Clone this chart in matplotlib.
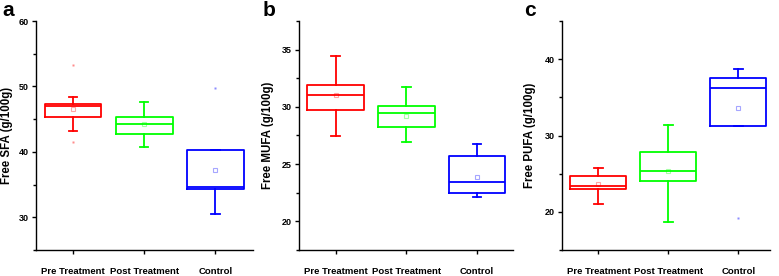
import matplotlib
matplotlib.use("Agg")
import matplotlib.pyplot as plt
from matplotlib.ticker import MultipleLocator

plt.rcParams['font.family'] = ['Liberation Sans', 'DejaVu Sans']

groups = ["Pre Treatment", "Post Treatment", "Control"]
colors = ["#ff0000", "#00ff00", "#0000ff"]

# each row: whislo, q1, median, q3, whishi, mean, outliers
sfa = [
    [43.2, 45.4, 47.0, 47.3, 48.4, 46.6, [53.2, 41.5]],
    [40.7, 42.75, 44.3, 45.3, 47.6, 44.3, []],
    [30.5, 34.3, 34.6, 40.3, 40.3, 37.2, [49.8]],
]
mufa = [
    [27.45, 29.7, 31.0, 31.95, 34.4, 31.0, []],
    [26.9, 28.2, 29.5, 30.05, 31.7, 29.2, []],
    [22.1, 22.5, 23.4, 25.75, 26.8, 23.9, []],
]
pufa = [
    [21.0, 22.97, 23.4, 24.75, 25.7, 23.65, []],
    [18.7, 24.0, 25.3, 27.8, 31.35, 25.3, []],
    [31.27, 31.27, 36.2, 37.47, 38.74, 33.6, [19.25]],
]

W, H = 779, 276
panels = [
    ("a", sfa, "Free SFA (g/100g)", (25, 60), 10, (36, 253), 3.53, 7.5, 2),
    ("b", mufa, "Free MUFA (g/100g)", (17.5, 37.5), 5, (299, 513), 3.51, 268, 263),
    ("c", pufa, "Free PUFA (g/100g)", (15, 45), 10, (562, 770), 3.45, 530, 524),
]

fig = plt.figure(figsize=(W / 100, H / 100), dpi=100)

for letter, rows, ylabel, ylim, step, (x0, x1), xmax, lab_x, let_x in panels:
    ax = fig.add_axes([x0 / W, 1 - 250 / H, (x1 - x0) / W, (250 - 21) / H])
    for i, r in enumerate(rows):
        st = dict(whislo=r[0], q1=r[1], med=r[2], q3=r[3], whishi=r[4], mean=r[5], fliers=r[6])
        c = colors[i]
        ax.bxp([st], positions=[i + 1], widths=0.8, capwidths=0.12, showmeans=True,
               boxprops=dict(color=c, lw=1.3),
               medianprops=dict(color=c, lw=1.3),
               whiskerprops=dict(color=c, lw=1.3),
               capprops=dict(color=c, lw=1.3),
               meanprops=dict(marker="s", markersize=2.5, markerfacecolor="none",
                              markeredgecolor=c, alpha=0.35, markeredgewidth=0.8),
               flierprops=dict(marker="s", markersize=2, markerfacecolor=c,
                               markeredgecolor="none", alpha=0.45))
    ax.set_xlim(0.48, xmax)
    ax.set_ylim(*ylim)
    ax.set_xticks([1, 2, 3])
    ax.set_xticklabels(groups, fontsize=6.8, fontweight="bold")
    ax.yaxis.set_major_locator(MultipleLocator(step))
    ax.yaxis.set_minor_locator(MultipleLocator(step / 2))
    for lab in ax.get_yticklabels():
        lab.set_fontsize(6.5)
        lab.set_fontweight("bold")
    ax.spines["top"].set_visible(False)
    ax.spines["right"].set_visible(False)
    ax.spines["left"].set_linewidth(1.0)
    ax.spines["bottom"].set_linewidth(1.0)
    ax.tick_params(axis="both", which="major", direction="out", length=3, width=1.0, pad=2)
    ax.tick_params(axis="y", which="minor", direction="out", length=2, width=1.0)
    ax.tick_params(axis="x", pad=9)
    ax.set_ylabel(ylabel, fontsize=8.3, fontweight="bold", va="center")
    ax.yaxis.set_label_coords((lab_x - x0) / (x1 - x0), 0.5)
    fig.text(let_x / W, 1 - 1 / H, letter, fontsize=15, fontweight="bold",
             ha="left", va="top")

fig.savefig("out.png", dpi=100)
